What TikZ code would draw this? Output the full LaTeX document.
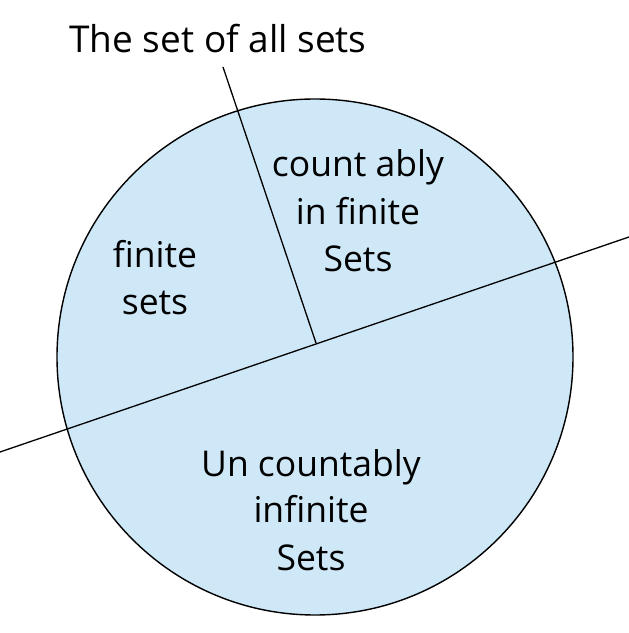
\documentclass[tikz,border=0pt]{standalone}
\usepackage{fontspec}
\setmainfont{Open Sans}
\definecolor{setfill}{RGB}{206,232,247}
\begin{document}
\begin{tikzpicture}[x=1pt,y=1pt,
  inner/.style={font=\fontsize{35.5}{47}\selectfont, anchor=base, inner sep=0pt},
  title/.style={font=\fontsize{37}{44}\selectfont, anchor=base, inner sep=0pt},
  divider/.style={line width=1.3pt, black}]
\useasboundingbox (0,0) rectangle (629,633);
% universe circle
\node[circle, draw=black, line width=1.4pt, fill=setfill, minimum size=516pt, inner sep=0pt] (univ) at (315,276) {};
% dividing lines
\coordinate (L) at (0,181);
\coordinate (R) at (629,396);
\coordinate (J) at (316,290);
\coordinate (T) at (223,566);
\draw[divider] (L) -- (R);
\draw[divider] (T) -- (J);
% labels
\node[title] (ttl) at (218,580) {The set of all sets};
\node[inner] (c1) at (358,456) {count ably};
\node[inner] (c2) at (358,408) {in finite};
\node[inner] (c3) at (358,361) {Sets};
\node[inner] (f1) at (155,365) {finite};
\node[inner] (f2) at (155,318) {sets};
\node[inner] (u1) at (311,156) {Un countably};
\node[inner] (u2) at (311,110) {infinite};
\node[inner] (u3) at (311,63) {Sets};
\end{tikzpicture}
\end{document}
